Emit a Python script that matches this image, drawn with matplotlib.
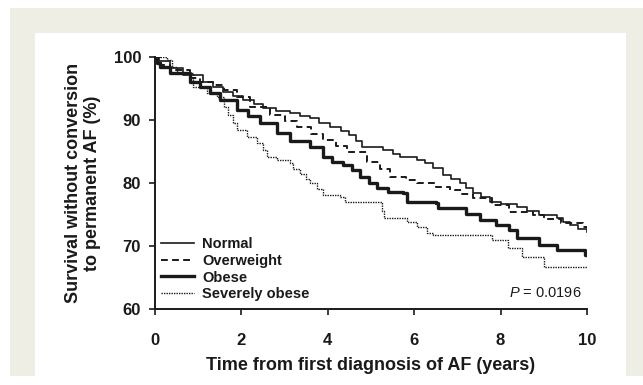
import matplotlib
matplotlib.use("Agg")
import matplotlib.pyplot as plt
from matplotlib.patches import Rectangle

plt.rcParams['font.family'] = ['Liberation Sans', 'DejaVu Sans']
plt.rcParams['mathtext.fontset'] = 'custom'
plt.rcParams['mathtext.it'] = 'Liberation Sans:italic'
plt.rcParams['mathtext.rm'] = 'Liberation Sans'

# ---- data (Kaplan-Meier estimates) ----
normal_t = [0, 0.1, 0.35, 0.65, 1.1, 1.35, 1.57, 1.8, 2.04, 2.3, 2.5, 2.8, 3.13, 3.35, 3.59,
            3.8, 4.05, 4.3, 4.5, 4.65, 4.8, 5.28, 5.5, 5.67, 6.06, 6.25, 6.44, 6.67, 6.85,
            7.06, 7.2, 7.36, 7.55, 7.75, 8.0, 8.38, 8.6, 8.9, 9.3, 9.45, 9.6, 9.8, 10.0]
normal_s = [100, 99.3, 98.2, 97.1, 96.0, 95.2, 94.4, 93.8, 93.2, 92.5, 91.9, 91.5, 91.1, 90.6, 90.3,
            89.6, 88.9, 88.2, 87.6, 86.6, 85.7, 85.2, 84.6, 84.1, 83.7, 83.2, 82.4, 81.3, 80.6,
            80.0, 79.2, 78.4, 77.7, 77.0, 76.6, 76.2, 75.6, 74.9, 74.4, 73.8, 73.3, 72.7, 72.2]

over_t = [0, 0.15, 0.35, 0.8, 1.05, 1.34, 1.6, 1.9, 2.2, 2.66, 3.0, 3.29, 3.6, 3.9, 4.2, 4.44,
          4.9, 5.2, 5.44, 5.8, 6.06, 6.5, 6.83, 7.1, 7.36, 7.8, 8.2, 8.75, 9.0, 9.4, 9.9, 10.0]
over_s = [100, 98.8, 97.9, 96.7, 96.1, 95.6, 94.7, 93.7, 92.1, 90.8, 89.9, 88.9, 87.8, 86.8, 85.8, 84.9,
          83.3, 82.2, 81.0, 80.5, 80.0, 79.4, 78.9, 78.2, 77.6, 76.5, 75.4, 74.9, 74.3, 73.6, 73.0, 73.0]

obese_t = [0, 0.05, 0.12, 0.35, 0.8, 1.05, 1.27, 1.5, 1.9, 2.15, 2.43, 2.82, 3.13, 3.59, 3.9, 4.1,
           4.35, 4.55, 4.75, 4.95, 5.14, 5.4, 5.74, 5.83, 6.5, 6.55, 7.06, 7.2, 7.52, 7.9, 8.2,
           8.38, 8.9, 9.3, 9.95, 10.0]
obese_s = [100, 99.0, 98.4, 97.5, 96.0, 95.2, 94.3, 93.2, 91.6, 90.6, 89.5, 87.9, 86.6, 85.7, 84.1, 83.4,
           82.9, 82.0, 81.0, 80.0, 79.2, 78.6, 78.4, 77.0, 76.8, 76.0, 76.0, 75.1, 74.1, 73.3, 72.5,
           71.3, 70.2, 69.4, 68.6, 68.6]

severe_t = [0, 0.28, 0.4, 0.5, 0.88, 1.2, 1.43, 1.6, 1.7, 1.8, 1.9, 2.13, 2.36, 2.5, 2.6, 2.82,
            3.13, 3.2, 3.36, 3.5, 3.59, 3.75, 3.9, 4.28, 4.4, 5.25, 5.3, 5.83, 6.06, 6.3, 6.44,
            7.8, 8.17, 8.5, 9.0, 10.0]
severe_s = [100, 99.5, 98.4, 97.5, 95.2, 94.3, 93.7, 92.1, 90.8, 89.5, 88.4, 87.3, 86.3, 85.2, 84.1, 83.6,
            83.2, 82.2, 81.4, 80.6, 80.0, 79.0, 78.1, 77.8, 77.0, 75.5, 74.4, 73.8, 73.0, 72.1, 71.8,
            70.9, 69.7, 68.3, 66.7, 66.7]

labels = ['Normal', 'Overweight', 'Obese', 'Severely obese']
x_ticks = [0, 2, 4, 6, 8, 10]
y_ticks = [60, 70, 80, 90, 100]
p_text = '0.0196'

W, H = 643, 385
fig = plt.figure(figsize=(W / 100, H / 100), dpi=100)
fig.patch.set_facecolor('white')

# beige frame and white panel
fig.patches.append(Rectangle((10 / W, 1 - 376 / H), (W - 10) / W, (376 - 8) / H,
                             transform=fig.transFigure, facecolor='#efeee4', edgecolor='none', zorder=-2))
fig.patches.append(Rectangle((35 / W, 1 - 376 / H), (626 - 35) / W, (376 - 33) / H,
                             transform=fig.transFigure, facecolor='white', edgecolor='none', zorder=-1))

ax = fig.add_axes([155 / W, 1 - 309 / H, (587 - 155) / W, (309 - 57) / H])
ax.set_zorder(5)
ax.set_facecolor('none')

col = '#1a1a1a'
ax.plot(normal_t, normal_s, drawstyle='steps-post', color=col, lw=1.2, label=labels[0])
ax.plot(over_t, over_s, drawstyle='steps-post', color=col, lw=1.4, linestyle=(0, (3.5, 2.2)), label=labels[1])
ax.plot(obese_t, obese_s, drawstyle='steps-post', color=col, lw=2.4, label=labels[2])
ax.plot(severe_t, severe_s, drawstyle='steps-post', color=col, lw=1.0, linestyle=(0, (1, 0.8)), label=labels[3])

ax.set_xlim(0, 10)
ax.set_ylim(60, 100)
ax.set_xticks(x_ticks)
ax.set_yticks(y_ticks)
for s in ['top', 'right']:
    ax.spines[s].set_visible(False)
for s in ['left', 'bottom']:
    ax.spines[s].set_linewidth(1.4)
    ax.spines[s].set_color(col)
ax.tick_params(axis='both', direction='out', length=4, width=1.2, color=col)
ax.tick_params(axis='x', pad=13)
ax.tick_params(axis='y', pad=6)
for lab in ax.get_xticklabels() + ax.get_yticklabels():
    lab.set_fontsize(12)
    lab.set_fontweight('bold')
    lab.set_color(col)

ax.set_xlabel('Time from first diagnosis of AF (years)', fontsize=13, fontweight='bold',
              color=col, labelpad=7)
ax.set_ylabel('Survival without conversion\nto permanent AF (%)', fontsize=13, fontweight='bold',
              color=col, labelpad=9, linespacing=1.15)

leg = ax.legend(loc='lower left', bbox_to_anchor=(0.015, 0.03), frameon=False, fontsize=10.5,
                handlelength=2.2, handletextpad=0.6, labelspacing=0.2, borderpad=0, borderaxespad=0)
for t in leg.get_texts():
    t.set_color(col)
    t.set_fontweight('bold')

ax.text(0.987, 0.065, r'$P$' + ' = ' + p_text, transform=ax.transAxes, ha='right', va='center',
        fontsize=10.5, color=col)

fig.savefig('out.png', dpi=100, facecolor=fig.get_facecolor())
